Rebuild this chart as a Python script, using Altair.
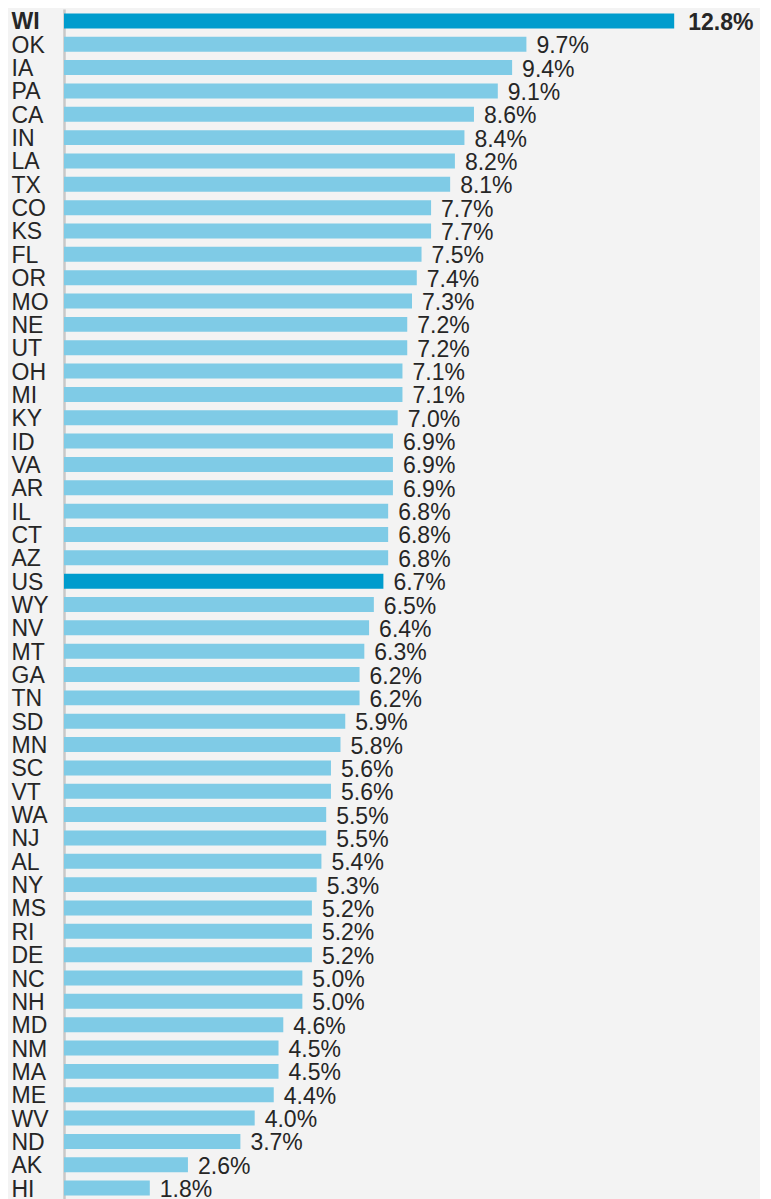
import altair as alt
import pandas as pd

states = ["WI", "OK", "IA", "PA", "CA", "IN", "LA", "TX", "CO", "KS", "FL", "OR", "MO",
          "NE", "UT", "OH", "MI", "KY", "ID", "VA", "AR", "IL", "CT", "AZ", "US", "WY",
          "NV", "MT", "GA", "TN", "SD", "MN", "SC", "VT", "WA", "NJ", "AL", "NY", "MS",
          "RI", "DE", "NC", "NH", "MD", "NM", "MA", "ME", "WV", "ND", "AK", "HI"]
values = [12.8, 9.7, 9.4, 9.1, 8.6, 8.4, 8.2, 8.1, 7.7, 7.7, 7.5, 7.4, 7.3,
          7.2, 7.2, 7.1, 7.1, 7.0, 6.9, 6.9, 6.9, 6.8, 6.8, 6.8, 6.7, 6.5,
          6.4, 6.3, 6.2, 6.2, 5.9, 5.8, 5.6, 5.6, 5.5, 5.5, 5.4, 5.3, 5.2,
          5.2, 5.2, 5.0, 5.0, 4.6, 4.5, 4.5, 4.4, 4.0, 3.7, 2.6, 1.8]
highlight = ["WI", "US"]

df = pd.DataFrame({"state": states, "value": values})
df["hl"] = df["state"].isin(highlight)
df["label"] = df["value"].map(lambda v: f"{v:.1f}%")
df["bold"] = df["state"] == "WI"

FONT = "Liberation Sans"
FS = 23

y = alt.Y("state:N", sort=states, title=None,
          scale=alt.Scale(paddingInner=0.36, paddingOuter=0.19),
          axis=alt.Axis(labelAlign="left", labelPadding=53, ticks=False,
                        labelOffset=1.5,
                        domain=True, domainColor="#c8c8c8", domainWidth=2.5,
                        labelFont=FONT, labelFontSize=FS, labelColor="#262626",
                        labelLimit=200,
                        labelFontWeight=alt.condition("datum.value == 'WI'",
                                                      alt.value("bold"),
                                                      alt.value("normal"))))
x = alt.X("value:Q", title=None, scale=alt.Scale(domain=[0, 14.6], nice=False, zero=True),
          axis=None)

base = alt.Chart(df)

bars = base.mark_bar().encode(
    x=x, y=y,
    color=alt.Color("hl:N", scale=alt.Scale(domain=[False, True],
                                            range=["#7fcbe6", "#009ccd"]),
                    legend=None),
)

text_normal = base.transform_filter("!datum.bold").mark_text(
    align="left", baseline="middle", dx=10, dy=2,
    font=FONT, fontSize=FS, color="#262626").encode(
    x=x, y=alt.Y("state:N", sort=states), text="label:N")

text_bold = base.transform_filter("datum.bold").mark_text(
    align="left", baseline="middle", dx=14, dy=2, fontWeight="bold",
    font=FONT, fontSize=FS, color="#262626").encode(
    x=x, y=alt.Y("state:N", sort=states), text="label:N")

chart = (bars + text_normal + text_bold).properties(
    width=696, height=1191,
    autosize=alt.AutoSizeParams(type="none"),
    padding={"left": 56, "top": 1, "right": 0, "bottom": 0},
    background="#f3f3f3",
).configure_view(strokeWidth=0)

chart.save("out.html", embed_options={"renderer": "svg", "actions": False})
